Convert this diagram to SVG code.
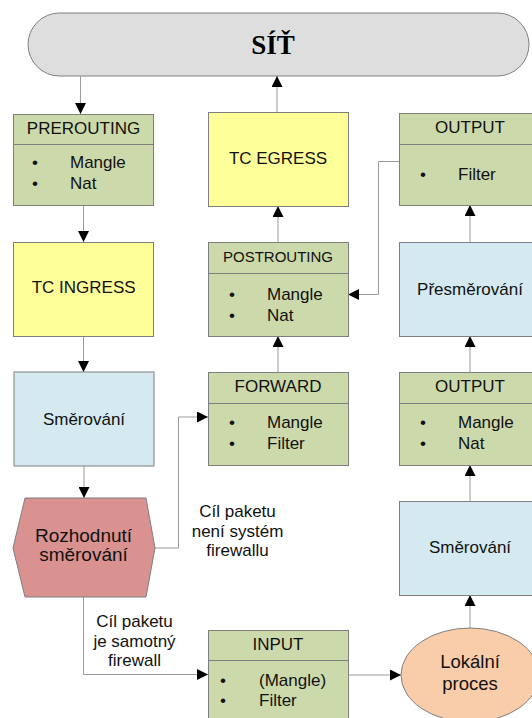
<svg xmlns="http://www.w3.org/2000/svg" width="532" height="718" viewBox="0 0 532 718">
  <style>
    .box { stroke: #7f7f7f; stroke-width: 1; }
    .chain { fill: #ccd9aa; }
    .tc { fill: #ffff99; }
    .route { fill: #d4eaf0; }
    .sep { stroke: #7f7f7f; stroke-width: 1; fill: none; }
    .t { font-family: "Liberation Sans", Arial, sans-serif; font-size: 17px; fill: #111; }
    .c { text-anchor: middle; }
    .big { font-size: 19px; }
    .mid { font-size: 18.5px; }
    .small { font-size: 15px; }
    .wire { fill: none; stroke: #9a9a9a; stroke-width: 1; }
  </style>
  <defs>
    <marker id="arr" markerUnits="userSpaceOnUse" markerWidth="11" markerHeight="11" viewBox="0 0 10 10" refX="10" refY="5" orient="auto">
      <path d="M0,0 L10,5 L0,10 z" fill="#000"/>
    </marker>
  </defs>

  <!-- network -->
  <g id="net">
    <rect x="28" y="13" width="501" height="63" rx="31.5" fill="#dedede" stroke="#7f7f7f"/>
    <text x="273" y="54" text-anchor="middle" font-family="'Liberation Serif', 'Times New Roman', serif" font-weight="bold" font-size="27">SÍŤ</text>
  </g>

  <!-- connectors -->
  <g id="connectors" class="wire" marker-end="url(#arr)">
    <path d="M80.5,76 V114"/>
    <path d="M83.5,205 V242"/>
    <path d="M83.5,336 V372"/>
    <path d="M84,466 V498"/>
    <path d="M155,548 H178.5 V417 H208"/>
    <path d="M83.5,597 V674.5 H208"/>
    <path d="M278,372 V336"/>
    <path d="M278,242 V206"/>
    <path d="M277,112 V76"/>
    <path d="M399,161.5 H378.5 V294.5 H348"/>
    <path d="M470,242 V205"/>
    <path d="M470,372 V336"/>
    <path d="M470,501 V465"/>
    <path d="M470,628 V595"/>
    <path d="M348,675 H401"/>
  </g>

  <!-- PREROUTING -->
  <g id="prerouting">
    <rect class="box chain" x="13.5" y="114.5" width="140" height="91"/>
    <path class="sep" d="M13.5,144.5 H153.5"/>
    <text class="t c" x="83.5" y="134">PREROUTING</text>
    <text class="t c" x="35" y="168">•</text>
    <text class="t" x="70" y="168">Mangle</text>
    <text class="t c" x="35" y="189">•</text>
    <text class="t" x="70" y="189">Nat</text>
  </g>

  <!-- TC INGRESS -->
  <g id="tc-ingress">
    <rect class="box tc" x="13.5" y="242.5" width="140" height="94"/>
    <text class="t c" x="83.7" y="293">TC INGRESS</text>
  </g>

  <!-- routing (left) -->
  <g id="routing-in">
    <rect class="box route" x="14" y="372" width="140" height="94"/>
    <text class="t c" x="84" y="425">Směrování</text>
  </g>

  <!-- routing decision -->
  <g id="decision">
    <polygon class="box" fill="#d9928f" points="25,498 146,498 155,548 146,597 25,597 13,548"/>
    <text class="t c big" x="83.5" y="541.5">Rozhodnutí</text>
    <text class="t c big" x="83.5" y="560.5">směrování</text>
  </g>

  <!-- edge labels -->
  <g id="label-forward">
    <text class="t c" x="237.5" y="516.5">Cíl paketu</text>
    <text class="t c" x="237.5" y="536.5">není systém</text>
    <text class="t c" x="237.5" y="555.5">firewallu</text>
  </g>
  <g id="label-input">
    <text class="t c" x="134.5" y="626.5">Cíl paketu</text>
    <text class="t c" x="134.5" y="646.5">je samotný</text>
    <text class="t c" x="134.5" y="666">firewall</text>
  </g>

  <!-- FORWARD -->
  <g id="forward">
    <rect class="box chain" x="208.5" y="372.5" width="140" height="93"/>
    <path class="sep" d="M208.5,403.5 H348.5"/>
    <text class="t c" x="278" y="392">FORWARD</text>
    <text class="t c" x="232" y="428">•</text>
    <text class="t" x="267" y="428">Mangle</text>
    <text class="t c" x="232" y="449">•</text>
    <text class="t" x="267" y="449">Filter</text>
  </g>

  <!-- POSTROUTING -->
  <g id="postrouting">
    <rect class="box chain" x="208.5" y="242.5" width="140" height="94"/>
    <path class="sep" d="M208.5,273.5 H348.5"/>
    <text class="t c small" x="278" y="262">POSTROUTING</text>
    <text class="t c" x="232" y="300">•</text>
    <text class="t" x="267" y="300">Mangle</text>
    <text class="t c" x="232" y="321">•</text>
    <text class="t" x="267" y="321">Nat</text>
  </g>

  <!-- TC EGRESS -->
  <g id="tc-egress">
    <rect class="box tc" x="208.5" y="112.5" width="140" height="94"/>
    <text class="t c" x="278" y="164">TC EGRESS</text>
  </g>

  <!-- OUTPUT (filter) -->
  <g id="output-filter">
    <rect class="box chain" x="399.5" y="113.5" width="142" height="92"/>
    <path class="sep" d="M399.5,144.5 H541"/>
    <text class="t c" x="470" y="133">OUTPUT</text>
    <text class="t c" x="423" y="180">•</text>
    <text class="t" x="458" y="180">Filter</text>
  </g>

  <!-- redirect -->
  <g id="redirect">
    <rect class="box route" x="399.5" y="242.5" width="142" height="94"/>
    <text class="t c" x="470" y="295">Přesměrování</text>
  </g>

  <!-- OUTPUT (mangle, nat) -->
  <g id="output-nat">
    <rect class="box chain" x="399.5" y="372.5" width="142" height="93"/>
    <path class="sep" d="M399.5,403.5 H541"/>
    <text class="t c" x="470" y="392">OUTPUT</text>
    <text class="t c" x="423" y="428">•</text>
    <text class="t" x="458" y="428">Mangle</text>
    <text class="t c" x="423" y="449">•</text>
    <text class="t" x="458" y="449">Nat</text>
  </g>

  <!-- routing (right) -->
  <g id="routing-out">
    <rect class="box route" x="399.5" y="501.5" width="142" height="94"/>
    <text class="t c" x="470" y="553">Směrování</text>
  </g>

  <!-- INPUT -->
  <g id="input">
    <rect class="box chain" x="208.5" y="630.5" width="140" height="100"/>
    <path class="sep" d="M208.5,660.5 H348.5"/>
    <text class="t c" x="278" y="650">INPUT</text>
    <text class="t c" x="223" y="686">•</text>
    <text class="t" x="259" y="686">(Mangle)</text>
    <text class="t c" x="223" y="706">•</text>
    <text class="t" x="259" y="706">Filter</text>
  </g>

  <!-- local process -->
  <g id="local">
    <ellipse class="box" fill="#f9ccaa" cx="470" cy="675" rx="69" ry="47"/>
    <text class="t c mid" x="470" y="668">Lokální</text>
    <text class="t c mid" x="470" y="690">proces</text>
  </g>
</svg>
